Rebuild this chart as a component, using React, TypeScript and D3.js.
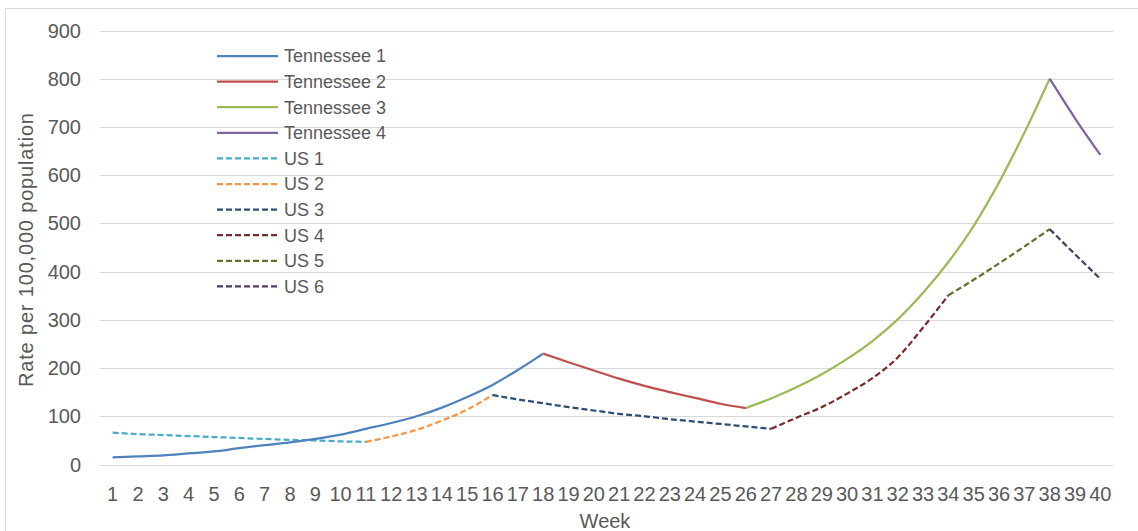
import React from "react";
import * as d3 from "d3";

const weekLabels = ["1","2","3","4","5","6","7","8","9","10","11","12","13","14","15","16","17","18","19","20","21","22","23","24","25","26","27","28","29","30","31","32","33","34","35","36","37","38","39","40"];
const yTicks = [0, 100, 200, 300, 400, 500, 600, 700, 800, 900];

// each series: first week, then values per consecutive week
const tn1Start = 1;
const tn1 = [15, 17, 19, 23, 27, 34, 40, 46, 53, 62, 74, 86, 100, 118, 140, 165, 196, 230];
const tn2Start = 18;
const tn2 = [230, 212, 195, 178, 163, 150, 138, 126, 117];
const tn3Start = 26;
const tn3 = [117, 137, 160, 187, 219, 256, 301, 356, 420, 495, 585, 688, 800];
const tn4Start = 38;
const tn4 = [800, 718, 642];
const us1Start = 1;
const us1 = [66, 63, 61, 59, 57, 55, 53, 51, 50, 48, 47];
const us2Start = 11;
const us2 = [47, 58, 72, 91, 114, 144];
const us3Start = 16;
const us3 = [144, 135, 127, 119, 112, 105, 100, 94, 89, 84, 79, 74];
const us4Start = 27;
const us4 = [74, 97, 119, 147, 179, 222, 284, 351];
const us5Start = 34;
const us5 = [351, 383, 417, 452, 488];
const us6Start = 38;
const us6 = [488, 436, 385];

const seriesNames = ["Tennessee 1", "Tennessee 2", "Tennessee 3", "Tennessee 4", "US 1", "US 2", "US 3", "US 4", "US 5", "US 6"];
const seriesColors = ["#4f81bd", "#c0504d", "#9bbb59", "#8064a2", "#4bacc6", "#f79646", "#2c4d75", "#772c2a", "#5f7530", "#4d3b62"];
const seriesDashed = [false, false, false, false, true, true, true, true, true, true];
const seriesData = [
  { start: tn1Start, values: tn1 },
  { start: tn2Start, values: tn2 },
  { start: tn3Start, values: tn3 },
  { start: tn4Start, values: tn4 },
  { start: us1Start, values: us1 },
  { start: us2Start, values: us2 },
  { start: us3Start, values: us3 },
  { start: us4Start, values: us4 },
  { start: us5Start, values: us5 },
  { start: us6Start, values: us6 },
];

const FONT = "'Liberation Sans', Arial, sans-serif";
const TEXT = "#595959";

export default function App() {
  const left = 100, right = 1113, top = 30.5, bottom = 464.5;
  const x = d3.scaleBand<string>().domain(weekLabels).range([left, right]);
  const cx = (w: number) => (x(String(w)) as number) + x.bandwidth() / 2;
  const y = d3.scaleLinear().domain([0, 900]).range([bottom, top]);
  const line = d3.line<[number, number]>().x(d => cx(d[0])).y(d => y(d[1])).curve(d3.curveMonotoneX);

  // draw order: US first then Tennessee on top
  const order = [4, 5, 6, 7, 8, 9, 0, 1, 2, 3];

  return (
    <svg width={1138} height={531} style={{ position: "absolute", left: 0, top: 0, background: "#fff" }}>
      <rect x={5.5} y={8.5} width={1140} height={530} fill="none" stroke="#d9d9d9" />
      {yTicks.map(t => (
        <g key={t}>
          <line x1={left} x2={right} y1={Math.round(y(t)) + 0.5} y2={Math.round(y(t)) + 0.5} stroke="#d9d9d9" strokeWidth={1} />
          <text x={81} y={y(t)} dy="0.35em" textAnchor="end" fontFamily={FONT} fontSize={20} fill={TEXT}>{t}</text>
        </g>
      ))}
      {weekLabels.map(w => (
        <text key={w} x={cx(+w)} y={501} textAnchor="middle" fontFamily={FONT} fontSize={20} fill={TEXT}>{w}</text>
      ))}
      <text x={605} y={528} textAnchor="middle" fontFamily={FONT} fontSize={20} fill={TEXT}>Week</text>
      <text transform={`translate(33,250) rotate(-90)`} textAnchor="middle" fontFamily={FONT} fontSize={20}
        textLength={274} lengthAdjust="spacing" fill={TEXT}>Rate per 100,000 population</text>
      {order.map(i => {
        const s = seriesData[i];
        const pts: [number, number][] = s.values.map((v, k) => [s.start + k, v]);
        return (
          <path key={i} d={line(pts) as string} fill="none" stroke={seriesColors[i]} strokeWidth={2.25}
            strokeDasharray={seriesDashed[i] ? "6,3" : undefined} strokeLinejoin="round" />
        );
      })}
      {seriesNames.map((n, i) => {
        const ly = 56 + i * 25.6;
        return (
          <g key={n}>
            <line x1={217} x2={278} y1={ly} y2={ly} stroke={seriesColors[i]} strokeWidth={2.25}
              strokeDasharray={seriesDashed[i] ? "6,3" : undefined} />
            <text x={284} y={ly} dy="0.35em" fontFamily={FONT} fontSize={18} fill={TEXT}>{n}</text>
          </g>
        );
      })}
    </svg>
  );
}
